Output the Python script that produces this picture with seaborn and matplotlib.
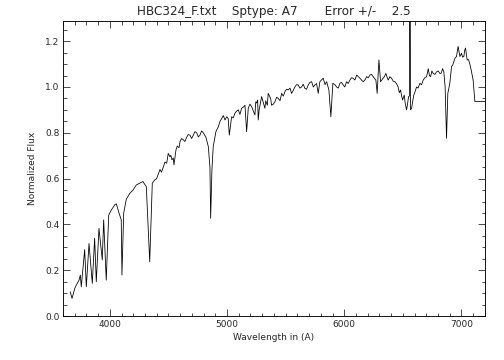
import numpy as np
import pandas as pd
import seaborn as sns
from matplotlib import pyplot as plt
from matplotlib.ticker import MultipleLocator, FormatStrFormatter

# spectrum (lines and main shape)
wavelength = [
    3662, 3677, 3700, 3713, 3737, 3748, 3756, 3785, 3799, 3822,
    3850, 3870, 3884, 3907, 3935, 3947, 3969, 3990, 4009, 4041,
    4055, 4078, 4097, 4103, 4118, 4140, 4169, 4197, 4225, 4254,
    4282, 4311, 4340, 4362, 4382, 4399, 4428, 4456, 4485, 4498,
    4513, 4541, 4547, 4564, 4598, 4626, 4655, 4683, 4712, 4741,
    4769, 4797, 4820, 4840, 4854, 4860, 4871, 4882, 4905, 4925,
    4954, 4982, 4997, 5019, 5039, 5067, 5096, 5124, 5153, 5167,
    5181, 5210, 5238, 5252, 5261, 5266, 5295, 5323, 5351, 5380,
    5409, 5437, 5466, 5494, 5522, 5551, 5579, 5607, 5636, 5664,
    5693, 5722, 5750, 5778, 5792, 5821, 5850, 5869, 5886, 5903,
    5935, 5963, 5991, 6020, 6048, 6077, 6106, 6134, 6162, 6191,
    6219, 6247, 6270, 6281, 6296, 6310, 6332, 6355, 6375, 6404,
    6432, 6460, 6481, 6498, 6512, 6532, 6549, 6556, 6561, 6566,
    6575, 6594, 6617, 6646, 6674, 6703, 6717, 6737, 6759, 6788,
    6816, 6839, 6850, 6861, 6873, 6884, 6901, 6916, 6935, 6958,
    6972, 6987, 7001, 7021, 7035, 7049, 7072, 7100, 7115, 7200,
]
flux = [
    0.106, 0.077, 0.120, 0.135, 0.157, 0.179, 0.128, 0.290, 0.128, 0.317,
    0.143, 0.340, 0.150, 0.383, 0.245, 0.420, 0.157, 0.440, 0.460, 0.485,
    0.490, 0.450, 0.420, 0.179, 0.450, 0.510, 0.535, 0.550, 0.572, 0.580,
    0.587, 0.565, 0.237, 0.580, 0.594, 0.600, 0.640, 0.650, 0.667, 0.710,
    0.695, 0.690, 0.660, 0.725, 0.760, 0.770, 0.780, 0.790, 0.790, 0.800,
    0.790, 0.800, 0.780, 0.740, 0.650, 0.427, 0.640, 0.740, 0.805, 0.826,
    0.863, 0.856, 0.870, 0.790, 0.870, 0.885, 0.900, 0.907, 0.920, 0.805,
    0.907, 0.914, 0.878, 0.930, 0.943, 0.856, 0.958, 0.907, 0.972, 0.920,
    0.936, 0.950, 0.972, 0.980, 0.987, 0.972, 1.000, 1.009, 1.000, 0.994,
    1.009, 1.023, 1.009, 0.972, 1.023, 1.038, 1.023, 0.987, 0.870, 1.016,
    1.000, 1.016, 1.009, 1.023, 1.030, 1.038, 1.052, 1.038, 1.023, 1.045,
    1.052, 1.045, 1.030, 0.972, 1.118, 1.023, 1.038, 1.059, 1.030, 1.038,
    1.023, 1.000, 0.987, 0.943, 0.965, 0.900, 0.958, 0.960, 1.800, 0.900,
    0.907, 0.965, 1.000, 1.016, 1.030, 1.045, 1.080, 1.045, 1.059, 1.066,
    1.059, 1.080, 1.066, 1.000, 0.776, 0.972, 1.016, 1.090, 1.110, 1.133,
    1.177, 1.133, 1.147, 1.133, 1.170, 1.118, 1.100, 1.030, 0.936, 0.936,
]

# extra continuum wiggles read between the points above
noise_wavelength = [
    4410, 4440, 4470, 4520, 4530, 4575, 4590, 4612, 4640, 4668,
    4698, 4726, 4755, 4783, 4808, 4940, 4968, 5010, 5053, 5082,
    5110, 5139, 5195, 5224, 5245, 5274, 5330, 5344, 5372, 5395,
    5423, 5452, 5480, 5508, 5537, 5565, 5593, 5621, 5650, 5678,
    5707, 5736, 5764, 5836, 5920, 5949, 5977, 6005, 6034, 6062,
    6091, 6120, 6148, 6176, 6205, 6233, 6320, 6343, 6390, 6418,
    6446, 6470, 6490, 6520, 6540, 6585, 6605, 6630, 6660, 6688,
    6727, 6748, 6773, 6802, 6828, 6925, 6945, 7010, 7028, 7060,
    7085,
]
noise_flux = [
    0.615, 0.628, 0.672, 0.702, 0.682, 0.742, 0.735, 0.775, 0.762, 0.792,
    0.775, 0.805, 0.782, 0.808, 0.790, 0.850, 0.875, 0.862, 0.865, 0.895,
    0.880, 0.912, 0.925, 0.895, 0.935, 0.900, 0.940, 0.920, 0.950, 0.925,
    0.955, 0.940, 0.960, 0.990, 0.995, 0.985, 1.010, 0.995, 1.012, 0.990,
    1.020, 1.000, 1.015, 1.010, 1.010, 0.995, 1.020, 1.000, 1.015, 1.040,
    1.030, 1.045, 1.030, 1.030, 1.040, 1.055, 1.030, 1.045, 1.045, 1.025,
    1.015, 0.975, 0.960, 0.930, 0.925, 0.940, 0.980, 0.995, 1.010, 1.040,
    1.050, 1.070, 1.055, 1.070, 1.060, 1.095, 1.125, 1.130, 1.160, 1.120,
    1.070,
]

title = "HBC324_F.txt    Sptype: A7       Error +/-    2.5"

df = pd.DataFrame({"wavelength": wavelength + noise_wavelength,
                   "flux": flux + noise_flux})
df = df.sort_values("wavelength")

sns.set_style("ticks")
plt.rcParams["font.family"] = ["DejaVu Sans"]

fig = plt.figure(figsize=(7, 5), dpi=72)
ax = fig.add_axes([0.125, 0.122, 0.837, 0.821])
sns.lineplot(data=df, x="wavelength", y="flux", sort=False, estimator=None,
             color="black", linewidth=0.8, ax=ax)

ax.set_xlim(3600, 7200)
ax.set_ylim(0, 1.29)
ax.xaxis.set_major_locator(MultipleLocator(1000))
ax.xaxis.set_minor_locator(MultipleLocator(100))
ax.yaxis.set_major_locator(MultipleLocator(0.2))
ax.yaxis.set_minor_locator(MultipleLocator(0.05))
ax.yaxis.set_major_formatter(FormatStrFormatter("%.1f"))
ax.tick_params(which="both", direction="in", top=True, right=True, labelsize=9, width=0.8)
ax.tick_params(which="major", length=7)
ax.tick_params(which="minor", length=3.5)
for s in ax.spines.values():
    s.set_linewidth(0.9)
    s.set_color("black")

ax.set_xlabel("Wavelength in (A)", fontsize=9)
ax.set_ylabel("Normalized Flux", fontsize=9, labelpad=8)
ax.set_title(title, fontsize=12, pad=6)

fig.savefig("out.png", dpi=72, facecolor="white")
